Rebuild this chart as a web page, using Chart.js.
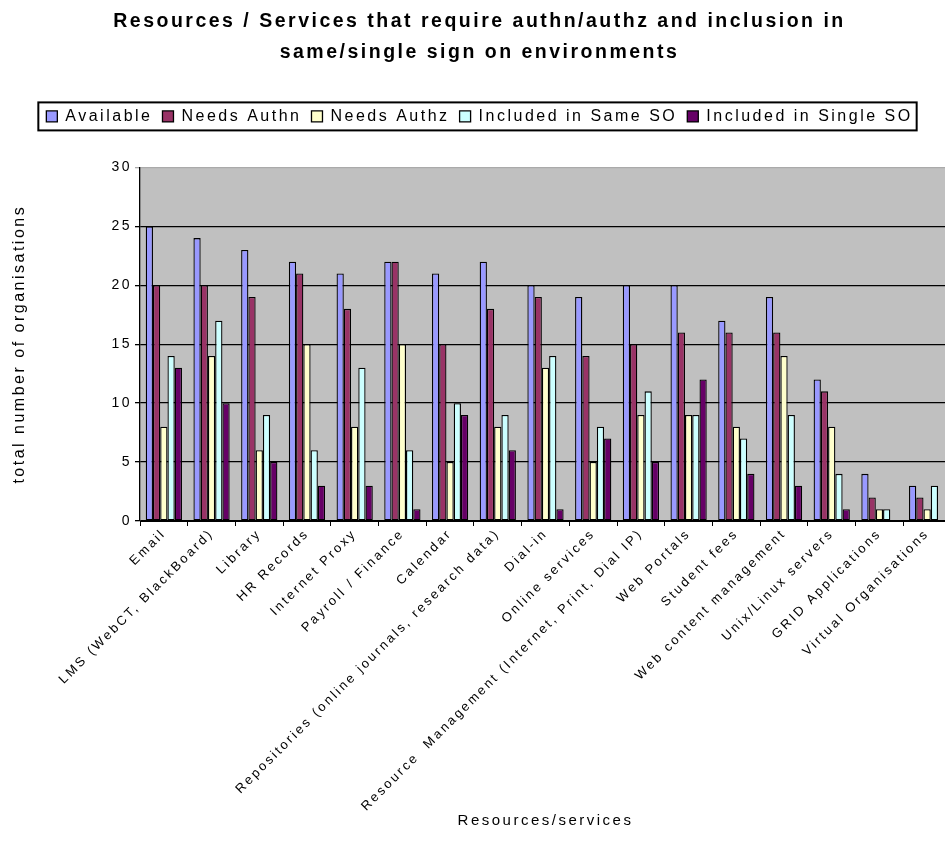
<!DOCTYPE html>
<html>
<head>
<meta charset="utf-8">
<script src="https://cdn.jsdelivr.net/npm/chart.js@4"></script>
<style>
  html, body { margin: 0; padding: 0; background: #fff; overflow: hidden; }
  #wrap { width: 960px; height: 859px; }
</style>
</head>
<body>
<div id="wrap"><canvas id="barChart" width="960" height="859"></canvas></div>
<script>
// data
const categories = ['Email', 'LMS (WebCT, BlackBoard)', 'Library', 'HR Records', 'Internet Proxy',
  'Payroll / Finance', 'Calendar', 'Repositories (online journals, research data)', 'Dial-in',
  'Online services', 'Resource  Management (Internet, Print, Dial IP)', 'Web Portals', 'Student fees',
  'Web content management', 'Unix/Linux servers', 'GRID Applications', 'Virtual Organisations'];
const available     = [25, 24, 23, 22, 21, 22, 21, 22, 20, 19, 20, 20, 17, 19, 12, 4, 3];
const needsAuthn    = [20, 20, 19, 21, 18, 22, 15, 18, 19, 14, 15, 16, 16, 16, 11, 2, 2];
const needsAuthz    = [8, 14, 6, 15, 8, 15, 5, 8, 13, 5, 9, 9, 8, 14, 8, 1, 1];
const includedSame  = [14, 17, 9, 6, 13, 6, 10, 9, 14, 8, 11, 9, 7, 9, 4, 1, 3];
const includedSingle = [13, 10, 5, 3, 3, 1, 9, 6, 1, 7, 5, 12, 4, 3, 1, 0, 0];
const yTicks = [0, 5, 10, 15, 20, 25, 30];

const font = "'Liberation Sans', Arial, sans-serif";

// the old excel picture has very loose letter spacing
function spaceOut(chart) {
  chart.ctx.letterSpacing = '2.5px';
}

// grey plot background, border round the legend, gap under the legend
const excelLook = {
  id: 'excelLook',
  beforeInit(chart) {
    spaceOut(chart);
    const legend = chart.legend;
    const fit = legend.fit;
    legend.fit = function() {
      fit.call(this);
      this.height += 33;
    };
  },
  beforeUpdate: spaceOut,
  beforeLayout: spaceOut,
  beforeDraw(chart) {
    spaceOut(chart);
    const a = chart.chartArea, ctx = chart.ctx;
    ctx.save();
    ctx.fillStyle = '#c0c0c0';
    ctx.fillRect(a.left, a.top, a.right - a.left, a.bottom - a.top);
    ctx.restore();
  },
  afterDraw(chart) {
    const boxes = chart.legend.legendHitBoxes;
    if (!boxes || !boxes.length) return;
    let x1 = Infinity, x2 = -Infinity, y1 = Infinity, y2 = -Infinity;
    boxes.forEach(b => {
      x1 = Math.min(x1, b.left); x2 = Math.max(x2, b.left + b.width);
      y1 = Math.min(y1, b.top); y2 = Math.max(y2, b.top + b.height);
    });
    const ctx = chart.ctx;
    ctx.save();
    ctx.strokeStyle = '#000';
    ctx.lineWidth = 2;
    ctx.strokeRect(x1 - 8, y1 - 6, x2 - x1 + 12, y2 - y1 + 12);
    ctx.restore();
  }
};

const ctx = document.getElementById('barChart').getContext('2d');
const barChart = new Chart(ctx, {
  type: 'bar',
  data: {
    labels: categories,
    datasets: [
      { label: 'Available', data: available, backgroundColor: '#9999ff' },
      { label: 'Needs Authn', data: needsAuthn, backgroundColor: '#993366' },
      { label: 'Needs Authz', data: needsAuthz, backgroundColor: '#ffffcc' },
      { label: 'Included in Same SO', data: includedSame, backgroundColor: '#ccffff' },
      { label: 'Included in Single SO', data: includedSingle, backgroundColor: '#660066' }
    ]
  },
  options: {
    responsive: false,
    animation: false,
    devicePixelRatio: 1,
    layout: { padding: { left: 8, right: 9, top: 0, bottom: 25 } },
    datasets: {
      bar: {
        borderColor: '#000',
        borderWidth: 1.3,
        borderSkipped: false,
        categoryPercentage: 0.76,
        barPercentage: 1
      }
    },
    plugins: {
      title: {
        display: true,
        text: ['Resources / Services that require authn/authz and inclusion in',
               'same/single sign on environments'],
        color: '#000',
        font: { family: font, size: 19.5, weight: 'bold', lineHeight: 1.6 },
        padding: { top: 6, bottom: 30 }
      },
      legend: {
        display: true,
        position: 'top',
        labels: {
          color: '#000',
          font: { family: font, size: 16 },
          boxWidth: 11,
          boxHeight: 11,
          padding: 10
        }
      },
      tooltip: { enabled: false }
    },
    scales: {
      x: {
        offset: true,
        afterFit(scale) { scale.height = 313; },
        grid: { offset: true, drawOnChartArea: false, color: '#000', tickLength: 5 },
        border: { color: '#000', width: 1 },
        ticks: {
          color: '#000',
          font: { family: font, size: 13 },
          minRotation: 45,
          maxRotation: 45,
          autoSkip: false,
          padding: 0
        },
        title: {
          display: true,
          text: 'Resources/services',
          color: '#000',
          font: { family: font, size: 15 },
          padding: 4
        }
      },
      y: {
        min: 0,
        max: 30,
        afterFit(scale) { scale.width = 132; },
        afterBuildTicks(scale) { scale.ticks = yTicks.map(v => ({ value: v })); },
        grid: {
          color: ctx => (ctx.tick && ctx.tick.value === 30) ? '#aaaaaa' : '#000',
          lineWidth: 1.3,
          tickLength: 5
        },
        border: { color: '#000', width: 1.3 },
        ticks: {
          color: '#000',
          font: { family: font, size: 14 },
          padding: 3
        },
        title: {
          display: true,
          text: 'total number of organisations',
          color: '#000',
          font: { family: font, size: 16 },
          padding: 2
        }
      }
    }
  },
  plugins: [excelLook]
});
</script>
</body>
</html>
